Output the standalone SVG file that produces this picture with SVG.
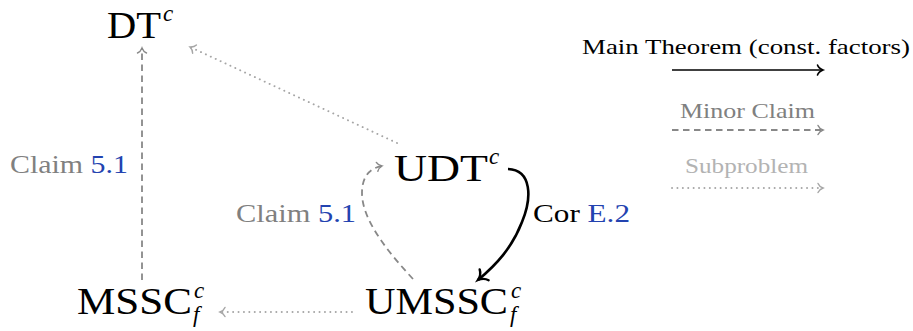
<svg xmlns="http://www.w3.org/2000/svg" width="913" height="331" viewBox="0 0 913 331">
<style>
.node{font-family:"Liberation Serif","Times New Roman",serif;font-size:38px;fill:#000}
.sup{font-family:"Liberation Serif","Times New Roman",serif;font-size:23px;font-style:italic;fill:#000}
.lbl{font-family:"Liberation Serif","Times New Roman",serif;font-size:26px}
.leg{font-family:"Liberation Serif","Times New Roman",serif;font-size:21px}
.gray{fill:#808080}
.blue{fill:#2343b0}
.black{fill:#000}
.light{fill:#b3b3b3}
.dash{fill:none;stroke:#888;stroke-width:1.8;stroke-dasharray:6.5 4.5}
.dot{fill:none;stroke:#a6a6a6;stroke-width:1.9;stroke-dasharray:0.1 5.3;stroke-linecap:round}
.main{fill:none;stroke:#000;stroke-width:2.6}
</style>
<defs>
<marker id="ahGray" markerUnits="userSpaceOnUse" viewBox="-7 -7 9 14" markerWidth="9" markerHeight="14" refX="0" refY="0" orient="auto" overflow="visible">
<path d="M-5,-4.5 C-4,-2 -1.5,-0.6 0,0 C-1.5,0.6 -4,2 -5,4.5" fill="none" stroke="#888" stroke-width="1.4" stroke-linecap="round"/>
</marker>
<marker id="ahLight" markerUnits="userSpaceOnUse" viewBox="-7 -7 9 14" markerWidth="9" markerHeight="14" refX="0" refY="0" orient="auto" overflow="visible">
<path d="M-5,-4.5 C-4,-2 -1.5,-0.6 0,0 C-1.5,0.6 -4,2 -5,4.5" fill="none" stroke="#a6a6a6" stroke-width="1.4" stroke-linecap="round"/>
</marker>
<marker id="ahBlack" markerUnits="userSpaceOnUse" viewBox="-10 -10 12 20" markerWidth="12" markerHeight="20" refX="0" refY="0" orient="auto" overflow="visible">
<path d="M-8,-7 C-6.5,-3 -2.5,-0.8 0,0 C-2.5,0.8 -6.5,3 -8,7" fill="none" stroke="#000" stroke-width="2.4" stroke-linecap="round"/>
</marker>
<marker id="ahBlackS" markerUnits="userSpaceOnUse" viewBox="-7 -7 9 14" markerWidth="9" markerHeight="14" refX="0" refY="0" orient="auto" overflow="visible">
<path d="M-5.5,-5 C-4.5,-2 -1.5,-0.6 0,0 C-1.5,0.6 -4.5,2 -5.5,5" fill="none" stroke="#000" stroke-width="1.6" stroke-linecap="round"/>
</marker>
</defs>

<g id="connectors">
<path id="c-mssc-dt" class="dash" d="M142,280 L142,48" marker-end="url(#ahGray)"/>
<path id="c-udt-dt" class="dot" d="M397,143 L190,47" marker-end="url(#ahLight)"/>
<path id="c-umssc-mssc" class="dot" d="M352,312 L220,312" marker-end="url(#ahLight)"/>
<path id="c-udt-umssc" class="main" d="M508,169 C532,170 532,198 522,222 C512,248 496,265 478,280" marker-end="url(#ahBlack)"/>
<path id="c-umssc-udt" class="dash" d="M413,279 C388,252 362,220 362,193 C362,176 370,168 382,166" marker-end="url(#ahGray)"/>
<text class="lbl" x="10" y="173" textLength="118" lengthAdjust="spacingAndGlyphs"><tspan class="gray">Claim </tspan><tspan class="blue">5.1</tspan></text>
<text class="lbl" x="236" y="222" textLength="120" lengthAdjust="spacingAndGlyphs"><tspan class="gray">Claim </tspan><tspan class="blue">5.1</tspan></text>
<text class="lbl" x="533" y="222" textLength="97" lengthAdjust="spacingAndGlyphs"><tspan class="black">Cor </tspan><tspan class="blue">E.2</tspan></text>
</g>

<g id="node-dt">
<text class="node" x="107" y="38" textLength="54" lengthAdjust="spacingAndGlyphs">DT</text>
<text class="sup" x="163" y="21">c</text>
</g>
<g id="node-udt">
<text class="node" x="394" y="181" textLength="94" lengthAdjust="spacingAndGlyphs">UDT</text>
<text class="sup" x="489" y="164">c</text>
</g>
<g id="node-umssc">
<text class="node" x="365" y="314" textLength="143" lengthAdjust="spacingAndGlyphs">UMSSC</text>
<text class="sup" x="511" y="298">c</text>
<text class="sup" x="510" y="322">f</text>
</g>
<g id="node-mssc">
<text class="node" x="77" y="314" textLength="115" lengthAdjust="spacingAndGlyphs">MSSC</text>
<text class="sup" x="194" y="298">c</text>
<text class="sup" x="193" y="322">f</text>
</g>

<g id="legend">
<text class="leg black" x="582" y="54" textLength="328" lengthAdjust="spacingAndGlyphs">Main Theorem (const. factors)</text>
<path class="main" style="stroke-width:1.7" d="M672,70 L823,70" marker-end="url(#ahBlackS)"/>
<text class="leg gray" x="680" y="118" textLength="135" lengthAdjust="spacingAndGlyphs">Minor Claim</text>
<path class="dash" d="M672,130 L823,130" marker-end="url(#ahGray)"/>
<text class="leg light" x="685" y="173" textLength="123" lengthAdjust="spacingAndGlyphs">Subproblem</text>
<path class="dot" d="M672,188 L823,188" marker-end="url(#ahLight)"/>
</g>
</svg>
